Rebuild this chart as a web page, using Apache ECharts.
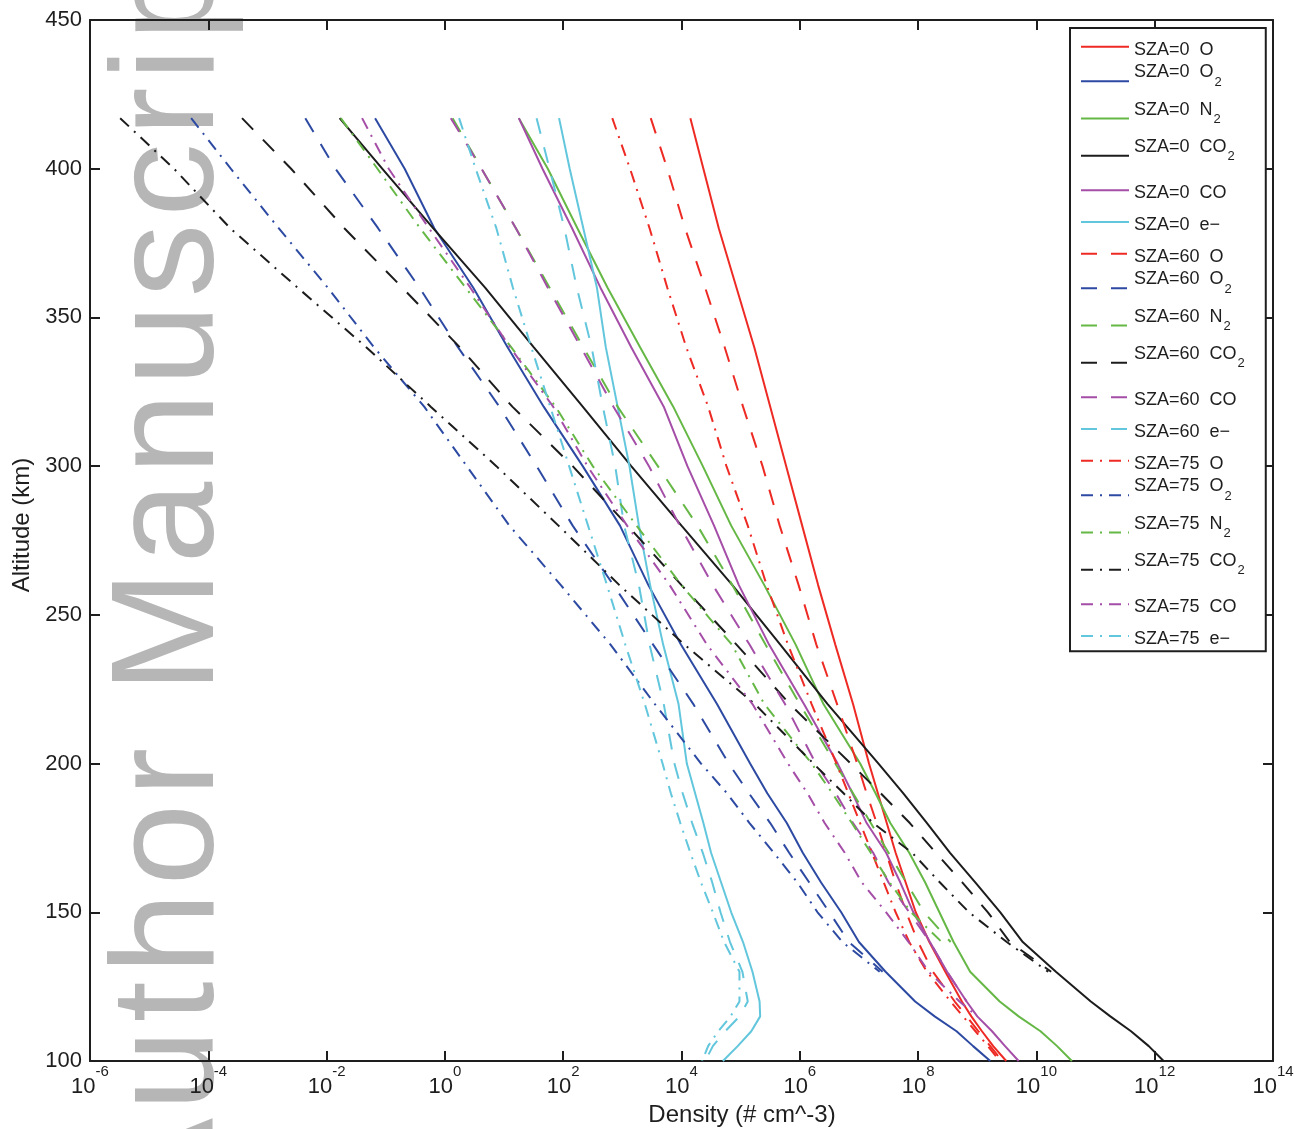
<!DOCTYPE html>
<html><head><meta charset="utf-8">
<script src="https://cdn.jsdelivr.net/npm/echarts@6/dist/echarts.min.js"></script>
<style>html,body{margin:0;padding:0;background:#fff}#c{width:1294px;height:1129px}</style>
</head><body><div id="c"></div>
<script>
// Altitude grid (km), shared by all profiles
const ALT = [417,400,380,360,340,320,300,280,260,240,220,200,190,180,170,160,150,140,130,120,115,110,105,100];
// log10 of density (# cm^-3) at each altitude; null = curve not drawn there
const O_0   = [4.15,4.37,4.63,4.93,5.23,5.50,5.77,6.04,6.31,6.60,6.90,7.17,7.32,7.47,7.62,7.79,7.96,8.19,8.46,8.74,8.90,9.08,9.27,9.49];
const O2_0  = [-1.18,-0.68,-0.18,0.48,1.06,1.67,2.33,2.96,3.44,3.99,4.60,5.16,5.45,5.78,6.05,6.36,6.70,7.00,7.45,7.95,8.28,8.65,8.93,9.22];
const N2_0  = [1.25,1.74,2.24,2.75,3.30,3.86,4.36,4.84,5.40,5.93,6.40,7.02,7.28,7.53,7.85,8.12,8.36,8.60,8.88,9.38,9.70,10.07,10.35,10.60];
const CO2_0 = [-1.78,-1.06,-0.20,0.68,1.50,2.33,3.15,4.00,4.86,5.67,6.47,7.33,7.75,8.15,8.54,8.97,9.39,9.77,10.33,10.92,11.25,11.60,11.90,12.15];
const CO_0  = [1.25,1.65,2.15,2.63,3.15,3.70,4.10,4.55,4.97,5.48,6.07,6.64,6.89,7.13,7.46,7.70,7.92,8.20,8.49,8.82,9.00,9.25,9.47,9.70];
const E_0   = [1.93,2.11,2.34,2.57,2.72,2.92,3.12,3.28,3.47,3.69,3.95,4.09,4.23,4.37,4.50,4.67,4.84,5.04,5.20,5.32,5.33,5.18,4.95,4.70];
const O_60  = [3.48,3.76,4.06,4.40,4.73,5.04,5.37,5.66,5.98,6.28,6.63,6.97,7.13,7.30,7.46,7.62,7.80,8.00,8.25,8.62,8.82,9.02,9.22,9.42];
const O2_60 = [-2.36,-1.85,-1.13,-0.43,0.22,0.92,1.55,2.16,2.85,3.52,4.20,4.80,5.14,5.50,5.82,6.16,6.50,6.83,7.40,null,null,null,null,null];
const N2_60 = [0.13,0.62,1.20,1.77,2.34,2.92,3.60,4.27,4.86,5.42,6.00,6.60,6.90,7.20,7.50,7.80,8.10,8.55,null,null,null,null,null,null];
const CO2_60= [-3.43,-2.60,-1.70,-0.72,0.25,1.14,2.16,3.09,4.00,4.93,5.83,6.86,7.37,7.86,8.30,8.75,9.18,9.55,10.25,null,null,null,null,null];
const CO_60 = [0.10,0.62,1.20,1.74,2.30,2.85,3.45,3.97,4.53,5.15,5.75,6.27,6.61,6.90,7.24,7.50,7.85,8.20,8.49,8.82,null,null,null,null];
const E_60  = [1.55,1.77,2.02,2.23,2.48,2.67,2.88,3.03,3.28,3.46,3.70,3.88,4.02,4.18,4.36,4.52,4.66,4.82,5.03,5.12,4.98,4.74,4.53,4.40];
const O_75  = [2.83,3.13,3.46,3.76,4.08,4.45,4.76,5.12,5.44,5.80,6.20,6.62,6.82,7.02,7.22,7.42,7.62,7.85,8.15,8.55,8.76,8.97,9.18,9.38];
const O2_75 = [-4.29,-3.62,-2.81,-1.98,-1.20,-0.35,0.37,1.09,1.96,2.80,3.55,4.33,4.77,5.15,5.56,5.96,6.30,6.72,7.35,null,null,null,null,null];
const N2_75 = [-1.76,-1.14,-0.42,0.35,1.12,1.87,2.50,3.24,4.00,4.85,5.40,6.20,6.55,6.88,7.20,7.52,7.88,8.40,null,null,null,null,null,null];
const CO2_75= [-5.49,-4.58,-3.63,-2.49,-1.33,-0.24,0.87,1.92,2.95,4.05,5.24,6.23,6.74,7.24,7.90,8.37,8.86,9.50,10.20,null,null,null,null,null];
const CO_75 = [-1.40,-0.95,-0.27,0.43,1.10,1.83,2.41,3.08,3.80,4.43,5.20,5.80,6.13,6.42,6.76,7.05,7.46,7.84,8.18,8.70,9.00,null,null,null];
const E_75  = [0.24,0.52,0.87,1.15,1.46,1.78,2.10,2.42,2.74,3.05,3.38,3.68,3.82,3.98,4.15,4.33,4.53,4.72,4.98,4.98,4.83,4.62,4.45,4.35];

const SPECIES = ['O','O2','N2','CO2','CO','e\u2212'];
const SZA = ['0','60','75'];

const COLORS = {O:'#ee2a24', O2:'#2d4aa3', N2:'#66b846', CO2:'#1c1c1c', CO:'#a54ea8', 'e\u2212':'#62c6dc'};
const DASH = {'0':'solid', '60':[16,14], '75':[12,7,2,7]};
const TABLE = {
  '0':  [O_0, O2_0, N2_0, CO2_0, CO_0, E_0],
  '60': [O_60, O2_60, N2_60, CO2_60, CO_60, E_60],
  '75': [O_75, O2_75, N2_75, CO2_75, CO_75, E_75]
};

const series = [];
SZA.forEach(z => {
  SPECIES.forEach((sp, i) => {
    const vals = TABLE[z][i];
    const data = [];
    vals.forEach((v, k) => { if (v !== null) data.push([Math.pow(10, v), ALT[k]]); });
    series.push({
      name: 'SZA=' + z + ' ' + sp,
      type: 'line',
      data: data,
      symbol: 'none',
      showSymbol: false,
      smooth: false,
      color: COLORS[sp],
      itemStyle: {color: COLORS[sp], opacity: 0},
      lineStyle: {color: COLORS[sp], width: 2, type: DASH[z]},
      z: 2
    });
  });
});

function legendFmt(name) {
  const m = name.match(/^SZA=(\d+) (.+)$/);
  const pre = 'SZA=' + m[1] + '  ';
  const sp = m[2];
  if (sp === 'O2' || sp === 'N2' || sp === 'CO2') {
    return '{m|' + pre + sp.slice(0, -1) + '}{s|2}';
  }
  return '{n|' + pre + sp + '}';
}

const FONT = '"Liberation Sans", Arial, Helvetica, sans-serif';
const INK = '#1e1e1e';
const CLEAR = 'rgba(255,255,255,0)';

// Watermark text (tracked, rotated, reading bottom-to-top)
const WM_TEXT = 'Author Manuscript';
const WM_FONT = '147px "Liberation Sans", Arial, sans-serif';
const WM_TRACK = 7;
const measureCtx = document.createElement('canvas').getContext('2d');
measureCtx.font = WM_FONT;
const watermark = [];
let wmY = 1216;
for (const ch of WM_TEXT) {
  const w = measureCtx.measureText(ch).width;
  if (ch !== ' ') {
    watermark.push({
      type: 'text', x: 172, y: wmY, rotation: Math.PI / 2, z: 0, silent: true,
      style: {text: ch, font: WM_FONT, fill: '#b6b6b6', stroke: '#ffffff', lineWidth: 3,
              align: 'left', verticalAlign: 'middle'}
    });
  }
  wmY -= w + WM_TRACK;
}

const axisCommon = {
  axisLine: {show: true, onZero: false, lineStyle: {color: INK, width: 2}},
  axisTick: {show: true, inside: true, length: 10, lineStyle: {color: INK, width: 2}},
  splitLine: {show: false},
  minorTick: {show: false},
  minorSplitLine: {show: false}
};

const chart = echarts.init(document.getElementById('c'), null, {renderer: 'canvas'});
chart.setOption({
  animation: false,
  backgroundColor: '#ffffff',
  textStyle: {fontFamily: FONT},
  grid: {left: 90, right: 21, top: 20, bottom: 68, containLabel: false, outerBoundsMode: 'none'},
  graphic: watermark,
  xAxis: [
    Object.assign({}, axisCommon, {
      type: 'log', logBase: 10, min: 1e-6, max: 1e14, interval: 2, position: 'bottom',
      name: 'Density (# cm^-3)', nameLocation: 'middle', nameGap: 36,
      nameTextStyle: {fontSize: 24, color: INK, fontFamily: FONT, padding: [0, 0, 0, 121]},
      axisLabel: {
        show: true, margin: 3.5, color: INK,
        formatter: function (v) { const e = Math.round(Math.log10(v)); return '{b|10}{e|' + e + '}'; },
        rich: {
          b: {fontSize: 22, fontFamily: FONT, color: INK, lineHeight: 33.5, verticalAlign: 'bottom'},
          e: {fontSize: 15, fontFamily: FONT, color: INK, verticalAlign: 'top'}
        }
      }
    }),
    Object.assign({}, axisCommon, {
      type: 'log', logBase: 10, min: 1e-6, max: 1e14, interval: 2, position: 'top',
      axisLabel: {show: false}
    })
  ],
  yAxis: [
    Object.assign({}, axisCommon, {
      type: 'value', min: 100, max: 450, interval: 50, position: 'left',
      name: 'Altitude (km)', nameLocation: 'middle', nameGap: 56, nameRotate: 90,
      nameTextStyle: {fontSize: 24, color: INK, fontFamily: FONT, padding: [0, 0, 0, 31]},
      axisLabel: {show: true, fontSize: 22, color: INK, margin: 8, fontFamily: FONT}
    }),
    Object.assign({}, axisCommon, {
      type: 'value', min: 100, max: 450, interval: 50, position: 'right',
      axisLabel: {show: false}
    })
  ],
  legend: {
    show: true, orient: 'vertical', left: 1070, top: 28,
    padding: [3.6, 21, 0, 10], itemGap: 1.25, itemWidth: 48, itemHeight: 14,
    backgroundColor: '#ffffff', borderColor: INK, borderWidth: 2,
    itemStyle: {opacity: 0},
    data: series.map(s => s.name),
    formatter: legendFmt,
    textStyle: {
      color: INK, fontSize: 18, fontFamily: FONT,
      rich: {
        n: {fontSize: 18, fontFamily: FONT, color: INK, padding: [9.25, 0, 3.25, 0], backgroundColor: CLEAR},
        m: {fontSize: 18, fontFamily: FONT, color: INK, padding: [0, 0, 18, 0], backgroundColor: CLEAR},
        s: {fontSize: 13, fontFamily: FONT, color: INK, padding: [12, 0, 10, 1], backgroundColor: CLEAR}
      }
    }
  },
  series: series
});
</script>
</body></html>
